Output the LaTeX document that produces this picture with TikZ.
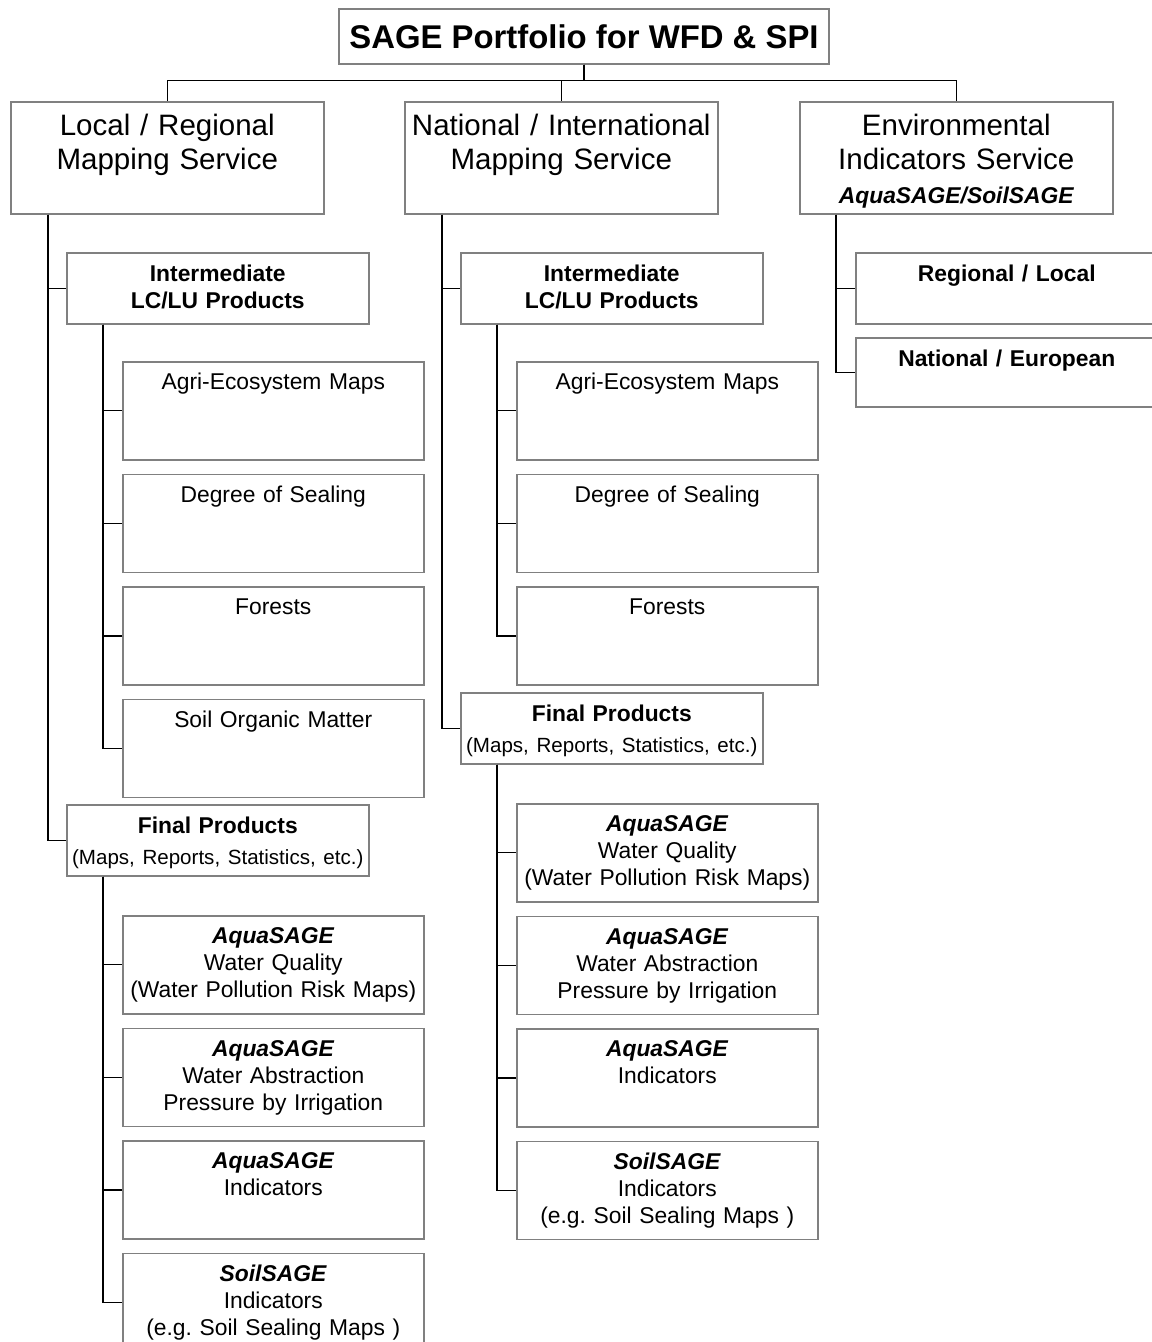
\documentclass[tikz,border=0pt]{standalone}
\usepackage{fontspec}
\setmainfont{Liberation Sans}
\usetikzlibrary{positioning}

\begin{document}
\begin{tikzpicture}[
      x=0.02cm, y=-0.02cm,
      node distance=0.26cm,
      box/.style={rectangle, draw=black!50, line width=0.9pt, inner sep=0pt, align=center},
      title/.style={box, minimum width=9.8cm, minimum height=1.1cm, font=\fontsize{18.7}{22}\selectfont\bfseries},
      service/.style={box, text width=6.26cm, text height=0.68cm, text depth=1.56cm, font=\fontsize{16.8}{19.3}\selectfont},
      group/.style={box, text width=6.04cm, text height=0.58cm, text depth=0.84cm, font=\fontsize{13}{15.3}\selectfont},
      leaf/.style={box, text width=6.02cm, text height=0.56cm, text depth=1.40cm, font=\fontsize{13}{15.3}\selectfont},
      link/.style={line width=0.8pt}
    ]
      \useasboundingbox (0,0) rectangle (1152,1342);

      % top and services
      \node [title, anchor=north] (title) at (584,8) {SAGE Portfolio for WFD \& SPI};
      \node [service, anchor=north west] (lrs) at (10,101) {Local / Regional\\Mapping Service};
      \node [service, anchor=north west] (nrs) at (404,101) {National / International\\Mapping Service};
      \node [service, anchor=north west] (eis) at (799,101) {Environmental\\Indicators Service\\{\fontsize{13}{15}\selectfont\bfseries\itshape AquaSAGE/SoilSAGE}};

      % local / regional branch
      \node [group, anchor=north west] (lint) at (66,252) {\textbf{Intermediate}\\\textbf{LC/LU Products}};
      \node [leaf, anchor=north west] (lagri) at (122,361) {Agri-Ecosystem Maps};
      \node [leaf, below=of lagri] (lseal) {Degree of Sealing};
      \node [leaf, below=of lseal] (lfor) {Forests};
      \node [leaf, below=of lfor] (lsom) {Soil Organic Matter};

      \node [group, anchor=north west] (lfin) at (66,804) {\textbf{Final Products}\\[2pt]{\fontsize{11.7}{14}\selectfont (Maps, Reports, Statistics, etc.)}};
      \node [leaf, anchor=north west] (laqw) at (122,915) {\textbf{\textit{AquaSAGE}}\\Water Quality\\(Water Pollution Risk Maps)};
      \node [leaf, below=of laqw] (laqa) {\textbf{\textit{AquaSAGE}}\\Water Abstraction\\Pressure by Irrigation};
      \node [leaf, below=of laqa] (laqi) {\textbf{\textit{AquaSAGE}}\\Indicators};
      \node [leaf, below=of laqi] (lsoil) {\textbf{\textit{SoilSAGE}}\\Indicators\\(e.g.\ Soil Sealing Maps )};

      % national / international branch
      \node [group, anchor=north west] (nint) at (460,252) {\textbf{Intermediate}\\\textbf{LC/LU Products}};
      \node [leaf, anchor=north west] (nagri) at (516,361) {Agri-Ecosystem Maps};
      \node [leaf, below=of nagri] (nseal) {Degree of Sealing};
      \node [leaf, below=of nseal] (nfor) {Forests};

      \node [group, anchor=north west] (nfin) at (460,692) {\textbf{Final Products}\\[2pt]{\fontsize{11.7}{14}\selectfont (Maps, Reports, Statistics, etc.)}};
      \node [leaf, anchor=north west] (naqw) at (516,803) {\textbf{\textit{AquaSAGE}}\\Water Quality\\(Water Pollution Risk Maps)};
      \node [leaf, below=of naqw] (naqa) {\textbf{\textit{AquaSAGE}}\\Water Abstraction\\Pressure by Irrigation};
      \node [leaf, below=of naqa] (naqi) {\textbf{\textit{AquaSAGE}}\\Indicators};
      \node [leaf, below=of naqi] (nsoil) {\textbf{\textit{SoilSAGE}}\\Indicators\\(e.g.\ Soil Sealing Maps )};

      % environmental indicators branch
      \node [group, anchor=north west] (ereg) at (855,252) {\textbf{Regional / Local}};
      \node [group, anchor=north west, text depth=0.8cm] (enat) at (855,337) {\textbf{National / European}};

      % connectors
      \foreach \s in {lrs,nrs,eis}
        \draw [link] (title.south) -- ++(0,16) -| (\s.north);

      \foreach \g in {lint,lfin}
        \draw [link] (lrs.south west) ++(38,0) |- (\g.west);
      \foreach \c in {lagri,lseal,lfor,lsom}
        \draw [link] (lint.south west) ++(37,0) |- (\c.west);
      \foreach \c in {laqw,laqa,laqi,lsoil}
        \draw [link] (lfin.south west) ++(37,0) |- (\c.west);

      \foreach \g in {nint,nfin}
        \draw [link] (nrs.south west) ++(38,0) |- (\g.west);
      \foreach \c in {nagri,nseal,nfor}
        \draw [link] (nint.south west) ++(37,0) |- (\c.west);
      \foreach \c in {naqw,naqa,naqi,nsoil}
        \draw [link] (nfin.south west) ++(37,0) |- (\c.west);

      \foreach \c in {ereg,enat}
        \draw [link] (eis.south west) ++(37,0) |- (\c.west);
    \end{tikzpicture}
\end{document}
